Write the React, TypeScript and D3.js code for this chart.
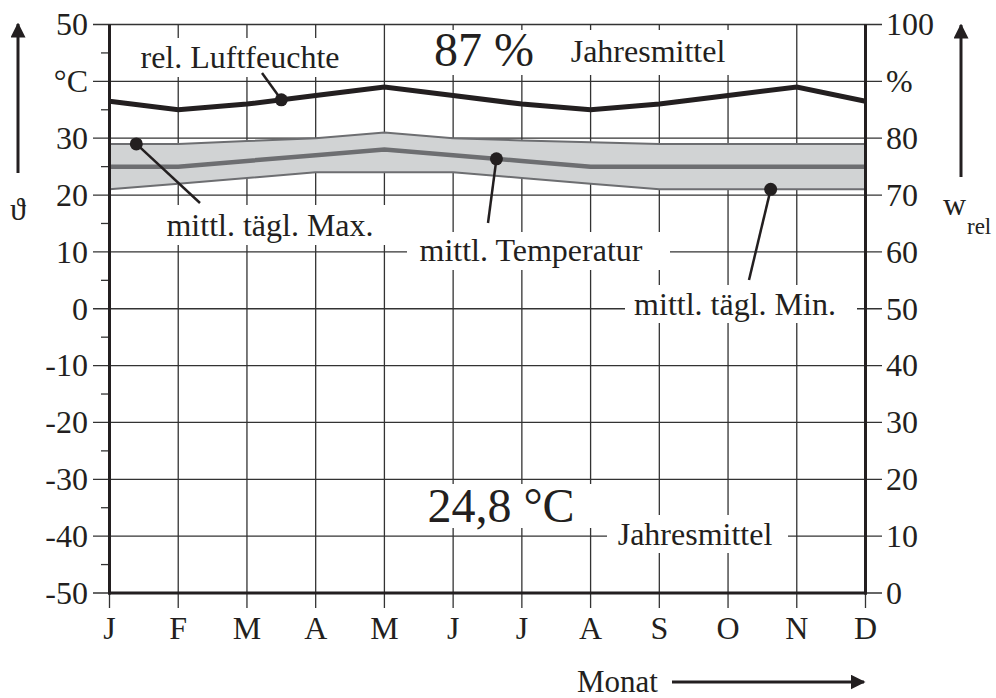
import * as d3 from "d3";

// month labels along the bottom
const months = ["J", "F", "M", "A", "M", "J", "J", "A", "S", "O", "N", "D"];

// relative humidity in %
const humidity = [86.5, 85, 86, 87.5, 89, 87.5, 86, 85, 86, 87.5, 89, 86.5];
// temperatures in °C
const tempMax = [29, 29, 29.5, 30, 31, 30, 29.6, 29.3, 29, 29, 29, 29];
const tempMean = [25, 25, 26, 27, 28, 27, 26, 25, 25, 25, 25, 25];
const tempMin = [21, 22, 23, 24, 24, 24, 23, 22, 21, 21, 21, 21];

// axis tick labels
const leftTicks = [50, 40, 30, 20, 10, 0, -10, -20, -30, -40, -50];
const leftTickLabels = ["50", "°C", "30", "20", "10", "0", "-10", "-20", "-30", "-40", "-50"];
const rightTicks = [100, 90, 80, 70, 60, 50, 40, 30, 20, 10, 0];
const rightTickLabels = ["100", "%", "80", "70", "60", "50", "40", "30", "20", "10", "0"];

const FONT = "'Liberation Serif', 'Times New Roman', serif";
const INK = "#231f20";
const GRID = "#333";
const BAND = "#d1d3d4";
const TLINE = "#6d6e71";

const App = () => {
  const width = 996;
  const height = 698;
  const left = 109.5;
  const right = 865.5;
  const top = 24.5;
  const bottom = 593;

  const x = d3.scaleLinear().domain([0, 11]).range([left, right]);
  const yT = d3.scaleLinear().domain([-50, 50]).range([bottom, top]);
  const yH = d3.scaleLinear().domain([0, 100]).range([bottom, top]);

  const idx = d3.range(12);
  const tLine = (arr: number[]) => d3.line<number>().x((i) => x(i)).y((i) => yT(arr[i]))(idx) || "";
  const hLine = d3.line<number>().x((i) => x(i)).y((i) => yH(humidity[i]))(idx) || "";
  const band =
    d3
      .area<number>()
      .x((i) => x(i))
      .y0((i) => yT(tempMin[i]))
      .y1((i) => yT(tempMax[i]))(idx) || "";

  // point on a series at a fractional month index
  const at = (arr: number[], t: number) => {
    const i = Math.min(10, Math.floor(t));
    return arr[i] + (arr[i + 1] - arr[i]) * (t - i);
  };

  const minorTicks = d3.range(-45, 50, 10);

  // annotation boxes (white, hide grid), text and leader lines
  const boxes = [
    { x0: 125, y0: 38, x1: 356, y1: 77 },
    { x0: 420, y0: 30, x1: 742, y1: 75 },
    { x0: 155, y0: 205, x1: 390, y1: 245 },
    { x0: 407, y0: 232, x1: 670, y1: 270 },
    { x0: 625, y0: 285, x1: 857, y1: 323 },
    { x0: 410, y0: 484, x1: 600, y1: 528 },
    { x0: 607, y0: 515, x1: 788, y1: 553 },
  ];

  const markers = [
    { cx: x(2.5), cy: yH(at(humidity, 2.5)), tx: 262, ty: 73 },
    { cx: x(0.39), cy: yT(at(tempMax, 0.39)), tx: 200, ty: 203 },
    { cx: x(5.63), cy: yT(at(tempMean, 5.63)), tx: 488, ty: 223 },
    { cx: x(9.62), cy: yT(at(tempMin, 9.62)), tx: 749, ty: 280 },
  ];

  return (
    <div style={{ position: "absolute", left: 0, top: 0 }}>
      <svg width={width} height={height} style={{ display: "block", background: "#fff" }} fontFamily={FONT}>
        <defs>
          <marker id="arr" viewBox="0 0 10 10" refX="9" refY="5" markerWidth="5" markerHeight="5" orient="auto">
            <path d="M0,0 L10,5 L0,10 z" fill={INK} />
          </marker>
        </defs>

        {/* grid */}
        <g stroke={GRID} strokeWidth={1.3}>
          {leftTicks.map((v) => (
            <line key={"h" + v} x1={93} x2={882} y1={yT(v)} y2={yT(v)} />
          ))}
          {idx.map((i) => (
            <line key={"v" + i} x1={x(i)} x2={x(i)} y1={top} y2={608} />
          ))}
          {minorTicks.map((v) => (
            <line key={"m" + v} x1={101} x2={left} y1={yT(v)} y2={yT(v)} />
          ))}
        </g>

        {/* white boxes behind labels */}
        {boxes.map((b, i) => (
          <rect key={"b" + i} x={b.x0} y={b.y0} width={b.x1 - b.x0} height={b.y1 - b.y0} fill="#fff" />
        ))}

        {/* temperature band and lines */}
        <path d={band} fill={BAND} />
        <path d={tLine(tempMax)} fill="none" stroke={TLINE} strokeWidth={2} />
        <path d={tLine(tempMin)} fill="none" stroke={TLINE} strokeWidth={2} />
        <path d={tLine(tempMean)} fill="none" stroke={TLINE} strokeWidth={4.5} />

        {/* humidity */}
        <path d={hLine} fill="none" stroke={INK} strokeWidth={5} />

        {/* axes */}
        <line x1={left} x2={left} y1={top} y2={bottom + 1.5} stroke={INK} strokeWidth={3} />
        <line x1={right} x2={right} y1={top} y2={bottom + 1.5} stroke={INK} strokeWidth={3} />
        <line x1={left - 1.5} x2={right + 1.5} y1={bottom} y2={bottom} stroke={INK} strokeWidth={3} />

        {/* tick labels */}
        <g fontSize={32} fill={INK}>
          {leftTicks.map((v, i) => (
            <text key={"lt" + v} x={88} y={yT(v)} dy="0.34em" textAnchor="end">
              {leftTickLabels[i]}
            </text>
          ))}
          {rightTicks.map((v, i) => (
            <text key={"rt" + v} x={886} y={yH(v)} dy="0.34em" textAnchor="start">
              {rightTickLabels[i]}
            </text>
          ))}
          {months.map((m, i) => (
            <text key={"mo" + i} x={x(i)} y={639} textAnchor="middle">
              {m}
            </text>
          ))}
        </g>

        {/* annotations */}
        <g fill={INK} fontSize={32}>
          <text x={240} y={68} textAnchor="middle">rel. Luftfeuchte</text>
          <text x={270} y={236} textAnchor="middle">mittl. tägl. Max.</text>
          <text x={531} y={261} textAnchor="middle">mittl. Temperatur</text>
          <text x={735} y={315} textAnchor="middle">mittl. tägl. Min.</text>
          <text x={648} y={62} textAnchor="middle">Jahresmittel</text>
          <text x={695} y={545} textAnchor="middle">Jahresmittel</text>
          <text x={484} y={66} textAnchor="middle" fontSize={48}>87 %</text>
          <text x={501} y={522} textAnchor="middle" fontSize={48}>24,8 °C</text>
        </g>

        {markers.map((m, i) => (
          <g key={"mk" + i}>
            <line x1={m.cx} y1={m.cy} x2={m.tx} y2={m.ty} stroke={INK} strokeWidth={2.5} />
            <circle cx={m.cx} cy={m.cy} r={6.5} fill={INK} />
          </g>
        ))}

        {/* axis titles */}
        <line x1={18} x2={18} y1={173} y2={24} stroke={INK} strokeWidth={3} markerEnd="url(#arr)" />
        <text x={18} y={220} fontSize={32} textAnchor="middle" fill={INK}>ϑ</text>
        <line x1={961} x2={961} y1={177} y2={25} stroke={INK} strokeWidth={3} markerEnd="url(#arr)" />
        <text x={943} y={215} fontSize={32} fill={INK}>w</text>
        <text x={967} y={234} fontSize={23} fill={INK}>rel</text>
        <text x={577} y={692} fontSize={31} fill={INK}>Monat</text>
        <line x1={672} x2={864} y1={682} y2={682} stroke={INK} strokeWidth={3} markerEnd="url(#arr)" />
      </svg>
    </div>
  );
};

export default App;
